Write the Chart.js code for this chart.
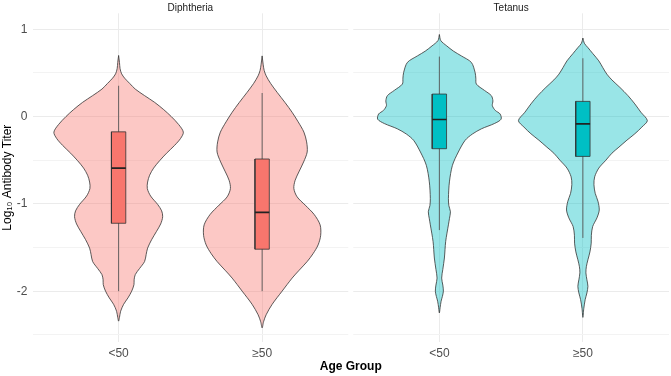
<!DOCTYPE html>
<html>
<head>
<meta charset="utf-8">
<script src="https://cdn.jsdelivr.net/npm/chart.js@4.4.1/dist/chart.umd.min.js"></script>
<style>
  html, body { margin: 0; padding: 0; background: #fff; }
  #wrap { width: 671px; height: 376px; position: relative; }
</style>
</head>
<body>
<div id="wrap"><canvas id="myChart"></canvas></div>
<script>
// facets and groups
var panels = ['Diphtheria', 'Tetanus'];
var ageGroups = ['<50', '\u226550'];
var yTickValues = [-2.5, -2, -1.5, -1, -0.5, 0, 0.5, 1];

// violin outlines: log10 titer levels and half widths (in group units)
var diphLt50Y = [0.70, 0.62, 0.55, 0.49, 0.44, 0.38, 0.315, 0.24, 0.163, 0.08, 0.0, -0.09, -0.178, -0.25, -0.33, -0.42, -0.505, -0.59, -0.672, -0.75, -0.824, -0.91, -1.006, -1.08, -1.147, -1.23, -1.318, -1.41, -1.507, -1.58, -1.66, -1.74, -1.81, -1.87, -1.925, -2.0, -2.077, -2.15, -2.23, -2.30, -2.343];
var diphLt50W = [0, 0.006, 0.010, 0.021, 0.042, 0.077, 0.116, 0.181, 0.251, 0.314, 0.367, 0.418, 0.451, 0.432, 0.390, 0.334, 0.286, 0.244, 0.216, 0.202, 0.200, 0.223, 0.272, 0.300, 0.307, 0.293, 0.263, 0.230, 0.202, 0.192, 0.181, 0.146, 0.116, 0.108, 0.107, 0.091, 0.065, 0.035, 0.014, 0.006, 0];

var diphGe50Y = [0.695, 0.6, 0.53, 0.467, 0.38, 0.277, 0.16, 0.049, -0.06, -0.178, -0.29, -0.406, -0.52, -0.634, -0.73, -0.824, -0.92, -1.014, -1.12, -1.24, -1.36, -1.47, -1.57, -1.66, -1.76, -1.85, -2.0, -2.15, -2.27, -2.35, -2.42];
var diphGe50W = [0, 0.007, 0.014, 0.028, 0.059, 0.105, 0.160, 0.209, 0.251, 0.291, 0.310, 0.314, 0.289, 0.256, 0.230, 0.221, 0.244, 0.300, 0.362, 0.404, 0.408, 0.390, 0.355, 0.314, 0.258, 0.209, 0.139, 0.070, 0.028, 0.010, 0];

var tetLt50Y = [0.94, 0.87, 0.81, 0.75, 0.695, 0.62, 0.505, 0.44, 0.372, 0.30, 0.24, 0.18, 0.125, 0.07, 0.03, -0.03, -0.08, -0.14, -0.2, -0.273, -0.406, -0.558, -0.748, -0.937, -1.02, -1.09, -1.17, -1.24, -1.43, -1.62, -1.75, -1.85, -1.93, -2.0, -2.06, -2.115, -2.19, -2.25];
var tetLt50W = [0, 0.010, 0.051, 0.098, 0.153, 0.223, 0.249, 0.254, 0.258, 0.314, 0.362, 0.373, 0.369, 0.390, 0.423, 0.430, 0.383, 0.293, 0.230, 0.179, 0.132, 0.091, 0.070, 0.063, 0.066, 0.077, 0.070, 0.063, 0.044, 0.035, 0.024, 0.016, 0.024, 0.028, 0.021, 0.012, 0.005, 0];

var tetGe50Y = [0.9, 0.84, 0.79, 0.72, 0.638, 0.56, 0.486, 0.42, 0.334, 0.24, 0.145, 0.05, -0.046, -0.12, -0.197, -0.27, -0.35, -0.42, -0.5, -0.59, -0.69, -0.78, -0.88, -0.97, -1.07, -1.16, -1.26, -1.36, -1.45, -1.55, -1.64, -1.72, -1.79, -1.87, -1.944, -2.02, -2.096, -2.2, -2.3];
var tetGe50W = [0, 0.010, 0.035, 0.070, 0.111, 0.139, 0.167, 0.202, 0.258, 0.314, 0.362, 0.404, 0.449, 0.411, 0.362, 0.307, 0.251, 0.202, 0.160, 0.111, 0.082, 0.077, 0.086, 0.105, 0.114, 0.098, 0.068, 0.059, 0.058, 0.049, 0.035, 0.024, 0.021, 0.028, 0.035, 0.028, 0.016, 0.006, 0];

// boxplot stats, order: Diph <50, Diph >=50, Tet <50, Tet >=50
var whiskerHigh = [0.353, 0.27, 0.687, 0.668];
var boxQ3 = [-0.175, -0.486, 0.258, 0.174];
var boxMedian = [-0.59, -1.097, -0.034, -0.083];
var boxQ1 = [-1.222, -1.519, -0.368, -0.456];
var whiskerLow = [-2.0, -2.0, -1.30, -1.39];

var violinY = [diphLt50Y, diphGe50Y, tetLt50Y, tetGe50Y];
var violinW = [diphLt50W, diphGe50W, tetLt50W, tetGe50W];

var panelSpan = 2.2, panelGap = 0.035, boxHalf = 0.05;
var fills = ['rgba(248,118,109,0.4)', 'rgba(0,191,196,0.4)'];
var boxFills = ['#F8766D', '#00BFC4'];

function catPos(p, g) { return 1 + g + p * (panelSpan + panelGap); }

var catTicks = [];
for (var p = 0; p < panels.length; p++) {
  for (var g = 0; g < ageGroups.length; g++) catTicks.push(catPos(p, g));
}

function violinPoints(c, ys, ws) {
  var pts = [];
  for (var i = 0; i < ys.length; i++) pts.push({x: c + ws[i], y: ys[i]});
  for (var j = ys.length - 2; j >= 0; j--) pts.push({x: c - ws[j], y: ys[j]});
  return pts;
}

var datasets = [];
for (var k = 0; k < 4; k++) {
  var p = Math.floor(k / 2), c = catTicks[k];
  datasets.push({
    data: violinPoints(c, violinY[k], violinW[k]),
    order: 4, fill: 'shape', tension: 0.3,
    backgroundColor: fills[p], borderColor: '#333333', borderWidth: 0.8
  });
  datasets.push({
    data: [{x: c, y: whiskerLow[k]}, {x: c, y: whiskerHigh[k]}],
    order: 3, fill: false, borderColor: '#555555', borderWidth: 0.9
  });
  datasets.push({
    data: [{x: c - boxHalf, y: boxQ1[k]}, {x: c + boxHalf, y: boxQ1[k]}, {x: c + boxHalf, y: boxQ3[k]}, {x: c - boxHalf, y: boxQ3[k]}, {x: c - boxHalf, y: boxQ1[k]}],
    order: 2, fill: 'shape', tension: 0,
    backgroundColor: boxFills[p], borderColor: '#333333', borderWidth: 0.8
  });
  datasets.push({
    data: [{x: c - boxHalf, y: boxMedian[k]}, {x: c + boxHalf, y: boxMedian[k]}],
    order: 1, fill: false, borderColor: '#222222', borderWidth: 1.6
  });
}

var facetPlugin = {
  id: 'facets',
  beforeDatasetsDraw: function(chart) {
    var x = chart.scales.x, a = chart.chartArea, ctx = chart.ctx;
    var l = x.getPixelForValue(0.4 + panelSpan), r = x.getPixelForValue(0.4 + panelSpan + panelGap);
    ctx.save();
    ctx.fillStyle = '#ffffff';
    ctx.fillRect(l, a.top - 1, r - l, a.bottom - a.top + 2);
    ctx.restore();
  },
  afterDraw: function(chart) {
    var x = chart.scales.x, ctx = chart.ctx;
    ctx.save();
    ctx.font = '10px "Liberation Sans", Arial, sans-serif';
    ctx.fillStyle = '#1A1A1A';
    ctx.textAlign = 'center';
    ctx.textBaseline = 'alphabetic';
    panels.forEach(function(name, p) {
      ctx.fillText(name, x.getPixelForValue(catPos(p, 0.5)), 10.5);
    });
    ctx.restore();
  }
};

Chart.defaults.font.family = '"Liberation Sans", Arial, sans-serif';

var ctx = document.getElementById('myChart').getContext('2d');
var myChart = new Chart(ctx, {
  type: 'line',
  data: { datasets: datasets },
  plugins: [facetPlugin],
  options: {
    responsive: true,
    maintainAspectRatio: false,
    animation: false,
    events: [],
    layout: { padding: { top: 13.3, right: 2, left: 0, bottom: 0 } },
    elements: { point: { radius: 0, hoverRadius: 0 }, line: { borderJoinStyle: 'round' } },
    plugins: { legend: { display: false }, tooltip: { enabled: false } },
    scales: {
      x: {
        type: 'linear',
        bounds: 'data',
        min: 0.4,
        max: 0.4 + 2 * panelSpan + panelGap,
        afterBuildTicks: function(scale) {
          scale.ticks = catTicks.map(function(v) { return {value: v}; });
        },
        afterFit: function(scale) { scale.height = 34; },
        ticks: {
          autoSkip: false, maxRotation: 0, padding: 4,
          color: '#4D4D4D', font: { size: 12 },
          callback: function(v, i) { return ageGroups[i % ageGroups.length]; }
        },
        grid: { color: '#EBEBEB', lineWidth: 1, drawTicks: false },
        border: { display: false },
        title: {
          display: true, text: 'Age Group', color: '#000000',
          font: { size: 12, weight: 'bold' },
          padding: { top: 0, bottom: 2 }
        }
      },
      y: {
        type: 'linear',
        bounds: 'data',
        min: -2.582,
        max: 1.183,
        afterBuildTicks: function(scale) {
          scale.ticks = yTickValues.map(function(v) { return {value: v}; });
        },
        afterFit: function(scale) { scale.width = 32.5; },
        ticks: {
          padding: 5, color: '#4D4D4D', font: { size: 12 },
          callback: function(v) { return Number.isInteger(v) ? String(v) : ''; }
        },
        grid: {
          drawTicks: false,
          color: function(c) { return Number.isInteger(c.tick.value) ? '#EBEBEB' : '#F3F3F3'; },
          lineWidth: 1
        },
        border: { display: false },
        title: {
          display: true, text: 'Log\u2081\u2080 Antibody Titer', color: '#000000',
          font: { size: 12 },
          padding: { top: 0, bottom: 0 }
        }
      }
    }
  }
});
</script>
</body>
</html>
